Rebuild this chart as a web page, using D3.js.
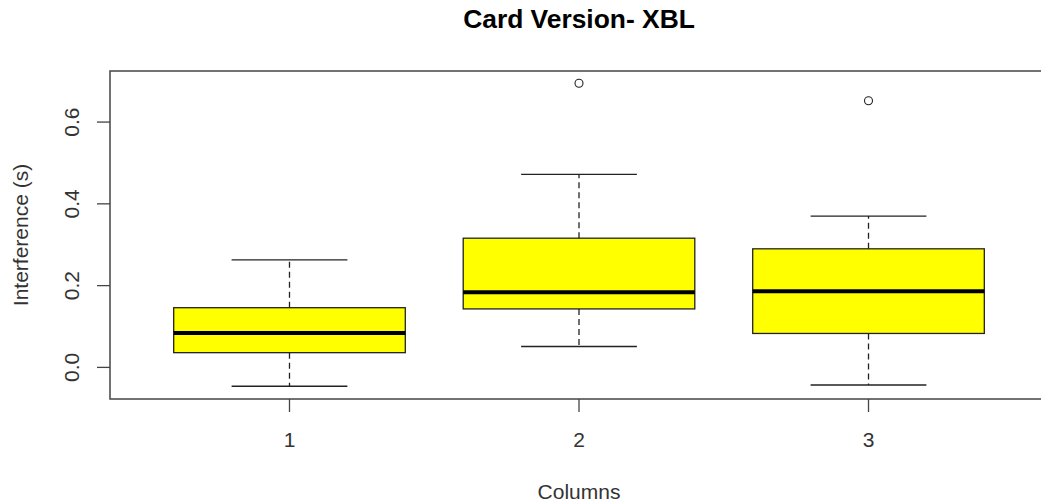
<!DOCTYPE html>
<html><head><meta charset="utf-8">
<script src="https://cdn.jsdelivr.net/npm/d3@7"></script>
<style>body{margin:0;background:#fff;}svg{display:block;font-family:"Liberation Sans",Arial,sans-serif;}</style>
</head><body>
<svg id="c" width="1041" height="504"></svg>
<script>
const categories = ["1","2","3"];
const lowerWhisker = [-0.046, 0.051, -0.043];
const q1 = [0.036, 0.143, 0.083];
const median = [0.084, 0.184, 0.186];
const q3 = [0.146, 0.316, 0.290];
const upperWhisker = [0.263, 0.472, 0.370];
const outliers = [[], [0.695], [0.652]];
const yTicks = [0.0, 0.2, 0.4, 0.6];

const svg = d3.select("#c");
const L = 110, R = 1048, T = 71, B = 399;
const x = d3.scaleLinear().domain([0.38, 3.62]).range([L, R]);
const y = d3.scaleLinear().domain([-0.0773, 0.7249]).range([B, T]);
const boxW = 0.8;
const TICK = 13;

const data = categories.map((c, i) => ({c, i: i + 1, lo: lowerWhisker[i], q1: q1[i], med: median[i], q3: q3[i], hi: upperWhisker[i], out: outliers[i]}));

const g = svg.append("g");
data.forEach(d => {
  g.append("line").attr("x1", x(d.i)).attr("x2", x(d.i)).attr("y1", y(d.q3)).attr("y2", y(d.hi))
    .attr("stroke", "#222").attr("stroke-width", 1.3).attr("stroke-dasharray", "6,4");
  g.append("line").attr("x1", x(d.i)).attr("x2", x(d.i)).attr("y1", y(d.q1)).attr("y2", y(d.lo))
    .attr("stroke", "#222").attr("stroke-width", 1.3).attr("stroke-dasharray", "6,4");
  [d.lo, d.hi].forEach(v => {
    g.append("line").attr("x1", x(d.i - boxW / 4)).attr("x2", x(d.i + boxW / 4)).attr("y1", y(v)).attr("y2", y(v))
      .attr("stroke", "#222").attr("stroke-width", 1.4);
  });
  g.append("rect").attr("x", x(d.i - boxW / 2)).attr("width", x(d.i + boxW / 2) - x(d.i - boxW / 2))
    .attr("y", y(d.q3)).attr("height", y(d.q1) - y(d.q3))
    .attr("fill", "#ffff00").attr("stroke", "#222").attr("stroke-width", 1.3);
  g.append("line").attr("x1", x(d.i - boxW / 2)).attr("x2", x(d.i + boxW / 2)).attr("y1", y(d.med)).attr("y2", y(d.med))
    .attr("stroke", "#000").attr("stroke-width", 4);
  d.out.forEach(v => {
    g.append("circle").attr("cx", x(d.i)).attr("cy", y(v)).attr("r", 4)
      .attr("fill", "none").attr("stroke", "#222").attr("stroke-width", 1.1);
  });
});

svg.append("rect").attr("x", L).attr("y", T).attr("width", R - L).attr("height", B - T)
  .attr("fill", "none").attr("stroke", "#444").attr("stroke-width", 1.5);

const ya = svg.append("g");
yTicks.forEach(t => {
  ya.append("line").attr("x1", L - TICK).attr("x2", L).attr("y1", y(t)).attr("y2", y(t)).attr("stroke", "#444").attr("stroke-width", 1.3);
  ya.append("text").attr("transform", `translate(71.5,${y(t)}) rotate(-90)`)
    .attr("text-anchor", "middle").attr("dy", "0.35em").attr("font-size", 21).attr("fill", "#333")
    .text(d3.format(".1f")(t));
});
const xa = svg.append("g");
categories.forEach((c, i) => {
  xa.append("line").attr("x1", x(i + 1)).attr("x2", x(i + 1)).attr("y1", B).attr("y2", B + TICK).attr("stroke", "#444").attr("stroke-width", 1.3);
  xa.append("text").attr("x", x(i + 1)).attr("y", 447).attr("text-anchor", "middle")
    .attr("font-size", 21).attr("fill", "#333").text(c);
});

svg.append("text").attr("x", x(2)).attr("y", 499).attr("text-anchor", "middle").attr("font-size", 21).attr("fill", "#333").text("Columns");
svg.append("text").attr("transform", `translate(27.5,${(T + B) / 2}) rotate(-90)`).attr("text-anchor", "middle")
  .attr("font-size", 21).attr("fill", "#333").text("Interference (s)");
svg.append("text").attr("x", x(2)).attr("y", 28).attr("text-anchor", "middle").attr("font-size", 26.4)
  .attr("font-weight", "bold").attr("fill", "#000").text("Card Version- XBL");
</script>
</body></html>
